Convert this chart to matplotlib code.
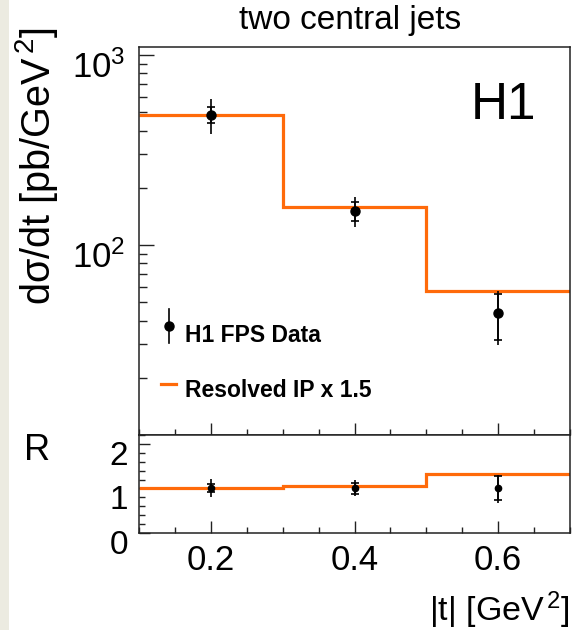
import matplotlib
matplotlib.use("Agg")
import matplotlib.pyplot as plt
from matplotlib.ticker import FixedLocator, MultipleLocator, NullFormatter, FixedFormatter
from matplotlib.transforms import ScaledTranslation
from matplotlib.lines import Line2D
import matplotlib.patches as mpatches
import numpy as np

plt.rcParams['font.family'] = ['Liberation Sans', 'DejaVu Sans']
plt.rcParams['mathtext.fontset'] = 'custom'
plt.rcParams['mathtext.rm'] = 'Liberation Sans'
plt.rcParams['mathtext.it'] = 'Liberation Sans:italic'
plt.rcParams['mathtext.bf'] = 'Liberation Sans:bold'

# ---------------- data ----------------
bin_edges = [0.1, 0.3, 0.5, 0.7]
t_centers = [0.2, 0.4, 0.6]
xsec = [483, 151, 43.7]
stat_up = [49, 18, 11.5]
stat_dn = [44, 18, 12.1]
tot_up = [104, 27, 13.3]
tot_dn = [99, 26, 14.0]
model = [480, 159, 57.3]

ratio_data = [1.0, 1.0, 1.0]
ratio_stat_up = [0.10, 0.12, 0.27]
ratio_stat_dn = [0.09, 0.12, 0.27]
ratio_tot_up = [0.22, 0.18, 0.30]
ratio_tot_dn = [0.20, 0.17, 0.32]
ratio_model = [1.00, 1.06, 1.32]

orange = '#ff6a0a'
spine_c = '#222222'

W, H = 573, 630
fig = plt.figure(figsize=(W / 100, H / 100), dpi=100)

# beige strip on the left
fig.patches.append(mpatches.Rectangle((0, 0), 9 / W, 1, transform=fig.transFigure,
                                      facecolor='#ecebe1', edgecolor='none', zorder=0))

L, R_ = 139, 570
top_ax = fig.add_axes([L / W, (H - 435) / H, (R_ - L) / W, (435 - 47) / H])
bot_ax = fig.add_axes([L / W, (H - 533) / H, (R_ - L) / W, (533 - 435) / H])

for ax in (top_ax, bot_ax):
    for s in ax.spines.values():
        s.set_linewidth(1.1)
        s.set_color(spine_c)

# ---------------- top panel ----------------
ax = top_ax
ax.set_yscale('log')
ax.set_xlim(0.1, 0.7)
ax.set_ylim(10, 1100)
ax.stairs(model, bin_edges, baseline=None, color=orange, lw=2.3, zorder=2)
ax.errorbar(t_centers, xsec, yerr=[tot_dn, tot_up], fmt='none', ecolor='black',
            elinewidth=1.2, capsize=0, zorder=3)
ax.errorbar(t_centers, xsec, yerr=[stat_dn, stat_up], fmt='o', color='black',
            ms=6.5, elinewidth=1.2, capsize=3, capthick=1.2, zorder=4)

ax.yaxis.set_major_locator(FixedLocator([100, 1000]))
ax.yaxis.set_major_formatter(FixedFormatter([r'$10^{2}$', r'$10^{3}$']))
minor_y = [m * d for d in (10, 100) for m in range(2, 10)]
ax.yaxis.set_minor_locator(FixedLocator(minor_y))
ax.yaxis.set_minor_formatter(NullFormatter())
ax.xaxis.set_major_locator(FixedLocator([0.2, 0.4, 0.6]))
ax.xaxis.set_minor_locator(MultipleLocator(0.05))
ax.tick_params(axis='both', which='both', direction='in', top=False, right=False,
               color=spine_c)
ax.tick_params(axis='y', which='major', length=11, width=1.0, labelsize=25, pad=10)
ax.tick_params(axis='y', which='minor', length=6, width=1.0)
ax.tick_params(axis='x', which='major', length=9, width=1.0, labelbottom=False)
ax.tick_params(axis='x', which='minor', length=4, width=1.0)

ax.text(0.845, 0.848, 'H1', transform=ax.transAxes, fontsize=37,
        ha='center', va='center')

# legend drawn by hand
to_ax = lambda px, py: ((px - L) / (R_ - L), (435 - py) / (435 - 47))
x0, y0 = to_ax(169, 326)
_, y0a = to_ax(169, 309)
_, y0b = to_ax(169, 343)
ax.add_line(Line2D([x0, x0], [y0a, y0b], transform=ax.transAxes, color='black', lw=1.2))
ax.add_line(Line2D([x0], [y0], transform=ax.transAxes, marker='o', color='black', ms=6.5))
xt, yt = to_ax(185, 342)
ax.text(xt, yt, 'H1 FPS Data', transform=ax.transAxes, fontsize=16.5,
        fontweight='bold', ha='left', va='baseline')
xl0, yl = to_ax(161, 384)
xl1, _ = to_ax(176, 384)
ax.add_line(Line2D([xl0, xl1], [yl, yl], transform=ax.transAxes, color=orange, lw=2.3))
xt2, yt2 = to_ax(185, 397)
ax.text(xt2, yt2, 'Resolved IP x 1.5', transform=ax.transAxes, fontsize=16.5,
        fontweight='bold', ha='left', va='baseline')

# ---------------- bottom panel ----------------
ax = bot_ax
ax.set_xlim(0.1, 0.7)
ax.set_ylim(0, 2.2)
ax.stairs(ratio_model, bin_edges, baseline=None, color=orange, lw=2.3, zorder=2)
ax.errorbar(t_centers, ratio_data, yerr=[ratio_tot_dn, ratio_tot_up], fmt='none',
            ecolor='black', elinewidth=1.2, capsize=0, zorder=3)
ax.errorbar(t_centers, ratio_data, yerr=[ratio_stat_dn, ratio_stat_up], fmt='o',
            color='black', ms=4.5, elinewidth=1.2, capsize=3, capthick=1.2, zorder=4)
ax.xaxis.set_major_locator(FixedLocator([0.2, 0.4, 0.6]))
ax.xaxis.set_major_formatter(FixedFormatter(['0.2', '0.4', '0.6']))
ax.xaxis.set_minor_locator(MultipleLocator(0.05))
ax.yaxis.set_major_locator(FixedLocator([0, 1, 2]))
ax.yaxis.set_major_formatter(FixedFormatter(['0', '1', '2']))
ax.yaxis.set_minor_locator(MultipleLocator(0.2))
ax.tick_params(axis='both', which='both', direction='in', top=False, right=False,
               color=spine_c)
ax.tick_params(axis='x', which='major', length=9, width=1.0, labelsize=25, pad=8)
ax.tick_params(axis='x', which='minor', length=4, width=1.0)
ax.tick_params(axis='y', which='major', length=8, width=1.0, labelsize=24, pad=8)
ax.tick_params(axis='y', which='minor', length=4, width=1.0)

# shift y tick labels slightly down (ROOT-like placement)
off = ScaledTranslation(0, -9 / 100, fig.dpi_scale_trans)
for a in (top_ax, bot_ax):
    for tk in a.yaxis.get_major_ticks():
        tk.label1.set_transform(tk.label1.get_transform() + off)

# ---------------- texts ----------------
fig.text(350 / W, 1 - 21 / H, 'two central jets', fontsize=24, ha='center', va='center')
fig.text(37 / W, 1 - 27 / H, r'dσ/dt [pb/GeV$^{\,2}$]', fontsize=28.5,
         rotation=90, ha='center', va='top')
fig.text(37 / W, 1 - 451 / H, 'R', fontsize=26, ha='center', va='center')
fig.text(570 / W, 1 - 610 / H, r'|t| [GeV$^{\,2}$]', fontsize=24.5, ha='right', va='center')

fig.savefig('out.png', dpi=100)
